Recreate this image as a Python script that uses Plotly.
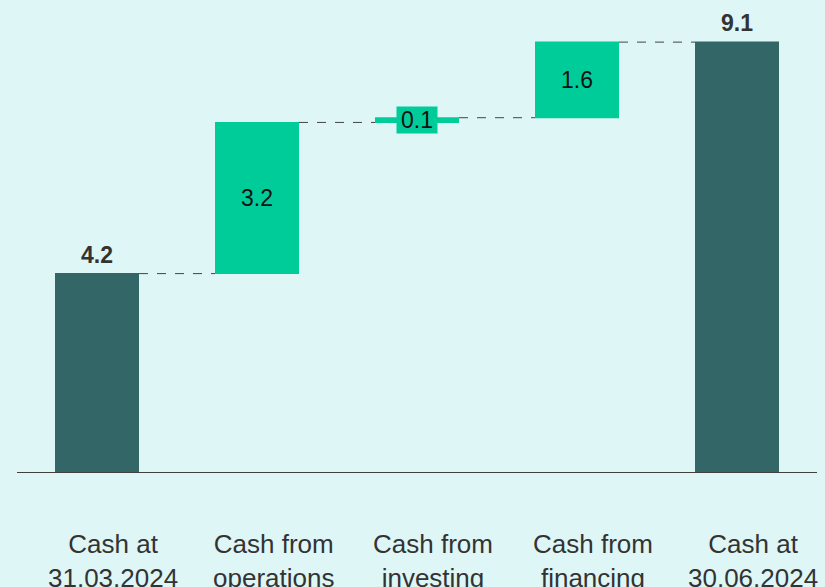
import plotly.graph_objects as go

categories = ["Cash at<br>31.03.2024", "Cash from<br>operations", "Cash from<br>investing",
              "Cash from<br>financing", "Cash at<br>30.06.2024"]
values = [4.2, 3.2, 0.1, 1.6, 9.1]
measures = ["absolute", "relative", "relative", "relative", "total"]
labels = ["4.2", "3.2", "0.1", "1.6", "9.1"]

DARK = "#336666"
GREEN = "#00CC99"
BG = "#DFF6F6"
FONT = "Arial, Liberation Sans, sans-serif"

xs = list(range(len(categories)))

fig = go.Figure(go.Waterfall(
    x=xs,
    y=values,
    measure=measures,
    width=0.525,
    textinfo="none",
    increasing=dict(marker=dict(color=GREEN)),
    decreasing=dict(marker=dict(color=GREEN)),
    totals=dict(marker=dict(color=DARK)),
    connector=dict(mode="between", line=dict(color="#444444", width=1, dash="dash")),
    hoverinfo="skip",
))

# value annotations
running = 0.0
for i, (v, m, lab) in enumerate(zip(values, measures, labels)):
    if m in ("absolute", "total"):
        running = v
        fig.add_annotation(x=i, y=v, text=f"<b>{lab}</b>", showarrow=False,
                           yanchor="bottom", yshift=4,
                           font=dict(family=FONT, size=23, color="#333333"))
    else:
        mid = running + v / 2
        small = v < 0.3
        if small:
            fig.add_annotation(x=i, y=mid, text=lab, showarrow=False,
                               yanchor="middle", bgcolor=GREEN,
                               width=38, height=24, borderpad=1,
                               font=dict(family=FONT, size=23, color="#111111"))
        else:
            fig.add_annotation(x=i, y=mid, text=lab, showarrow=False,
                               yanchor="middle",
                               font=dict(family=FONT, size=23, color="#111111"))
        running += v

# category labels (slightly right of bar centres, as in the original)
for i, cat in enumerate(categories):
    fig.add_annotation(x=i, y=0, xref="x", yref="y", text=cat, showarrow=False,
                       xanchor="center", yanchor="top", xshift=16, yshift=-55,
                       align="center",
                       font=dict(family=FONT, size=26, color="#333333"))

fig.update_layout(
    width=825, height=587,
    margin=dict(l=17, r=8, t=10, b=115),
    paper_bgcolor=BG, plot_bgcolor=BG,
    showlegend=False,
    font=dict(family=FONT, color="#333333"),
    xaxis=dict(
        range=[-0.5, 4.5],
        tickmode="array", tickvals=xs, showticklabels=False,
        showline=True, linecolor="#404040", linewidth=1,
        showgrid=False, zeroline=False, ticks="", automargin=False,
    ),
    yaxis=dict(
        range=[0, 9.78], visible=False, showgrid=False, zeroline=False,
    ),
)

fig.write_html("out.html", config={"displayModeBar": False},
               post_script="document.body.style.margin='0';")
